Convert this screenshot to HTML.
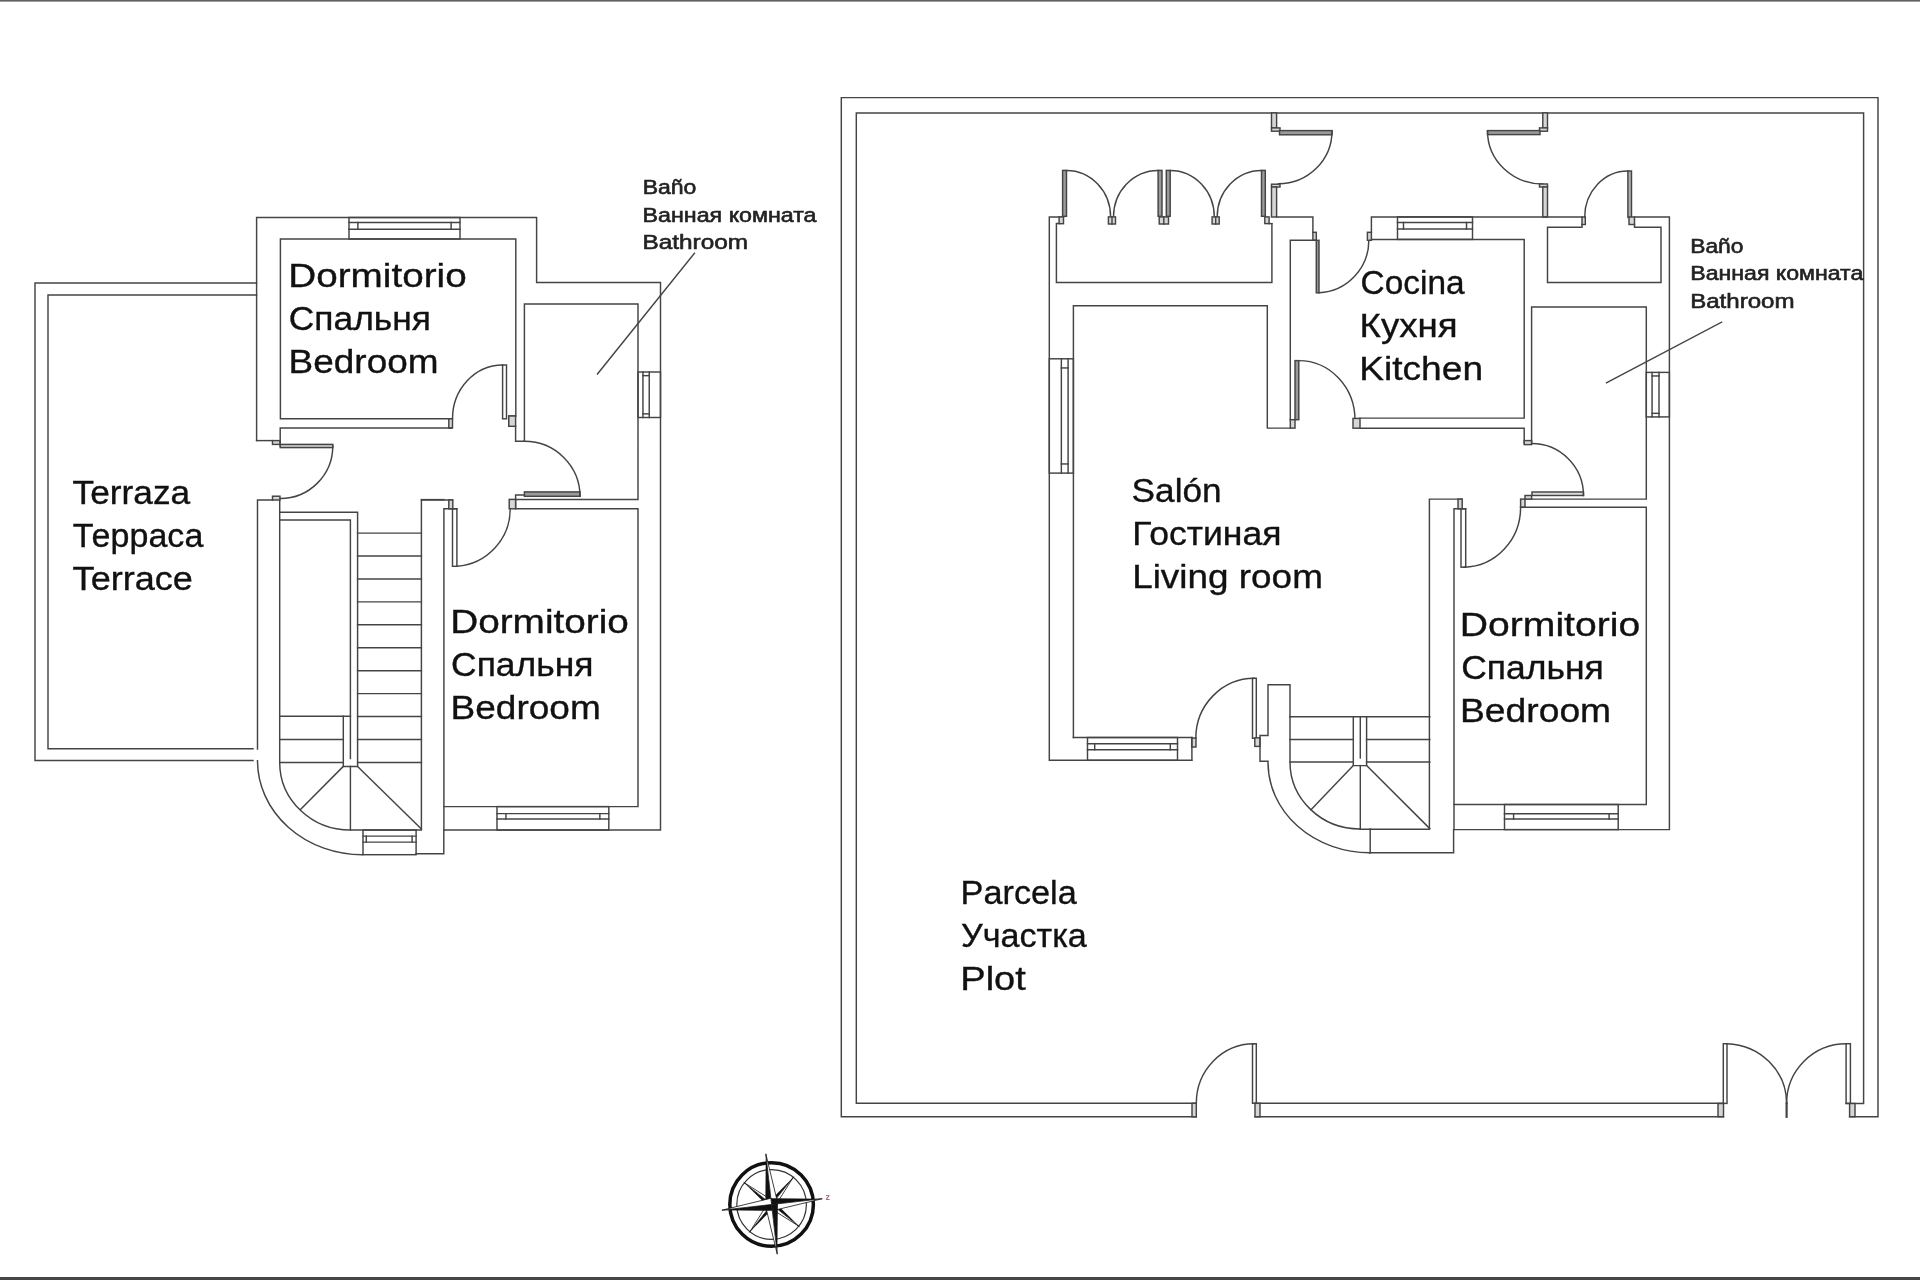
<!DOCTYPE html>
<html><head><meta charset="utf-8"><title>Floor plan</title>
<style>
html,body{margin:0;padding:0;background:#fff;}
body{width:1920px;height:1280px;overflow:hidden;position:relative;}
svg{position:absolute;left:0;top:0;display:block;}
text{font-family:"Liberation Sans",sans-serif;}
.tx{filter:grayscale(100%);}
</style></head>
<body>
<svg width="1920" height="1280" viewBox="0 0 1920 1280">
<rect x="0" y="0" width="1920" height="1280" fill="#fff"/>
<rect x="0" y="0" width="1920" height="1.6" fill="#606060"/>
<rect x="0" y="1277" width="1920" height="3" fill="#464646"/>
<g fill="none" stroke="#444" stroke-width="1.45" stroke-linecap="square" stroke-linejoin="miter">
<path d="M256.6 283 H35 V760.5 H253"/>
<path d="M256.6 295 H48 V748.8 H253"/>
<path d="M256.6 440.6 V217.5 H536.6 V282.5 H660.5 V830 H443.8 V853.8 H416"/>
<path d="M362.5 854.7 A105 94 0 0 1 257.5 760.8"/>
<path d="M257.5 749.1 V500 H272.5"/>
<path d="M256.6 440.6 H272.5"/>
<rect x="272.5" y="440.6" width="7.50" height="3.80" fill="#d6d6d6"/>
<rect x="272.5" y="496.2" width="7.50" height="3.80" fill="#d6d6d6"/>
<path d="M451.3 418.8 H280.4 V239 H515.8 V416 H508.8 V426.3 H515.6 V441.3 H524.4 V304 H638 V499.4 H515.6 V495 H524.4"/>
<line x1="451.3" y1="418.8" x2="451.3" y2="428"/>
<rect x="448.8" y="418.8" width="3.70" height="9.20" fill="#d6d6d6"/>
<rect x="508.8" y="416" width="6.80" height="10.30" fill="#d6d6d6"/>
<path d="M451.3 428 H280.2 V446"/>
<rect x="280.2" y="444.4" width="52.60" height="3.20" fill="#c8c8c8"/>
<path d="M332.8 446 A52.6 52.5 0 0 1 280.2 498.5"/>
<rect x="502.6" y="365" width="3.90" height="53.80"/>
<path d="M452.5 418.8 A50.1 53.8 0 0 1 502.6 365"/>
<rect x="524.4" y="491.9" width="55.60" height="4.40" fill="#9a9a9a"/>
<path d="M524.4 441.3 A55.6 55 0 0 1 580 496.3"/>
<rect x="349" y="217.5" width="111.00" height="21.50"/>
<line x1="349" y1="222.445" x2="460" y2="222.445"/>
<line x1="349" y1="229.325" x2="460" y2="229.325"/>
<line x1="357.88" y1="222.445" x2="357.88" y2="229.325"/>
<line x1="451.12" y1="222.445" x2="451.12" y2="229.325"/>
<rect x="638" y="372" width="22.50" height="45.50"/>
<line x1="642.95" y1="372" x2="642.95" y2="417.5"/>
<line x1="649.25" y1="372" x2="649.25" y2="417.5"/>
<line x1="642.95" y1="375.64" x2="649.25" y2="375.64"/>
<line x1="642.95" y1="413.86" x2="649.25" y2="413.86"/>
<path d="M279.7 500 V762.4 A70.7 67.6 0 0 0 350.4 830 H421.4 V500 H452.5"/>
<rect x="448.8" y="500" width="4.00" height="8.80" fill="#d6d6d6"/>
<path d="M280 512.3 H357.6 V766.4 H343.3 V716.3"/>
<path d="M280 520 H350.4 V758.4"/>
<line x1="357.6" y1="533.1" x2="421.4" y2="533.1"/>
<line x1="357.6" y1="556.03" x2="421.4" y2="556.03"/>
<line x1="357.6" y1="578.96" x2="421.4" y2="578.96"/>
<line x1="357.6" y1="601.89" x2="421.4" y2="601.89"/>
<line x1="357.6" y1="624.82" x2="421.4" y2="624.82"/>
<line x1="357.6" y1="647.75" x2="421.4" y2="647.75"/>
<line x1="357.6" y1="670.68" x2="421.4" y2="670.68"/>
<line x1="357.6" y1="693.61" x2="421.4" y2="693.61"/>
<line x1="357.6" y1="716.54" x2="421.4" y2="716.54"/>
<line x1="357.6" y1="739.47" x2="421.4" y2="739.47"/>
<line x1="357.6" y1="762.4" x2="421.4" y2="762.4"/>
<line x1="279.7" y1="716.3" x2="350.4" y2="716.3"/>
<line x1="279.7" y1="739.4" x2="343.3" y2="739.4"/>
<line x1="279.7" y1="762.4" x2="343.3" y2="762.4"/>
<line x1="343.3" y1="766.4" x2="300.5" y2="809.5"/>
<line x1="350.4" y1="766.4" x2="350.4" y2="830"/>
<line x1="357.6" y1="766.4" x2="421.4" y2="829"/>
<path d="M456.9 508.8 H443.9 V806.6 H638 V508.8 H515.6 V499.4"/>
<rect x="509.2" y="499.4" width="6.40" height="9.40" fill="#d6d6d6"/>
<line x1="421.4" y1="499.6" x2="443.9" y2="499.6"/>
<line x1="443.9" y1="806.6" x2="443.9" y2="830"/>
<rect x="452.5" y="508.8" width="4.40" height="57.50"/>
<path d="M456.9 566.3 A57.7 57.5 0 0 0 510.2 508.8"/>
<rect x="497" y="806.6" width="111.80" height="23.40"/>
<line x1="497" y1="813.62" x2="608.8" y2="813.62"/>
<line x1="497" y1="819.0020000000001" x2="608.8" y2="819.0020000000001"/>
<line x1="505.944" y1="813.62" x2="505.944" y2="819.0020000000001"/>
<line x1="599.856" y1="813.62" x2="599.856" y2="819.0020000000001"/>
<rect x="363" y="830" width="53.10" height="24.70"/>
<line x1="363" y1="836.1" x2="416.1" y2="836.1"/>
<line x1="363" y1="842.1" x2="416.1" y2="842.1"/>
<line x1="366.3" y1="836.1" x2="366.3" y2="842.1"/>
<line x1="412.1" y1="836.1" x2="412.1" y2="842.1"/>
<line x1="694.4" y1="253.3" x2="597.5" y2="374"/>
<path d="M1196.3 1116.8 H841.3 V97.6 H1878 V1116.7 H1849.6"/>
<path d="M1196.3 1103.3 H856.3 V113 H1863.6 V1103.4 H1846.1"/>
<path d="M1255 1116.8 H1723.5"/>
<path d="M1255 1103.3 H1723.5"/>
<rect x="1192" y="1103.3" width="4.30" height="13.50" fill="#d6d6d6"/>
<rect x="1255" y="1103.3" width="5.00" height="13.50" fill="#d6d6d6"/>
<rect x="1252.5" y="1043.8" width="3.80" height="59.50"/>
<path d="M1196.3 1103.3 A57.7 59.5 0 0 1 1254 1043.8"/>
<rect x="1718" y="1103.5" width="5.50" height="13.20" fill="#d6d6d6"/>
<rect x="1849.6" y="1103.5" width="5.40" height="13.20" fill="#d6d6d6"/>
<rect x="1723.3" y="1043.7" width="3.70" height="59.70"/>
<rect x="1846.1" y="1043.7" width="4.30" height="59.70"/>
<path d="M1727 1043.7 A61.6 59.7 0 0 1 1786.6 1103.4"/>
<path d="M1846.1 1043.7 A59.5 59.7 0 0 0 1786.6 1103.4"/>
<line x1="1786.6" y1="1103.4" x2="1786.6" y2="1116.8" stroke-width="2.2"/>
<path d="M1063.5 216.9 H1049.3 V760.3 H1191.7"/>
<rect x="1191.7" y="738" width="4.30" height="9.00" fill="#d6d6d6"/>
<rect x="1059.1" y="216.9" width="4.40" height="6.80" fill="#d6d6d6"/>
<path d="M1059.1 223.4 H1056.4 V282.5 H1271.9 V223.6"/>
<rect x="1062.6" y="170.4" width="3.90" height="45.90" fill="#9a9a9a"/>
<path d="M1066.5 170.4 A44.1 46.5 0 0 1 1110.6 216.9"/>
<rect x="1158.1" y="170.4" width="3.90" height="45.90" fill="#9a9a9a"/>
<path d="M1158.1 170.4 A44.6 46.5 0 0 0 1113.5 216.9"/>
<rect x="1108.4" y="216.9" width="7.10" height="7.10" fill="#d6d6d6"/>
<line x1="1112" y1="216.9" x2="1112" y2="224"/>
<rect x="1166.3" y="170.4" width="3.90" height="45.90" fill="#9a9a9a"/>
<path d="M1170.2 170.4 A44.1 46.5 0 0 1 1214.3 216.9"/>
<rect x="1261.5" y="170.4" width="3.80" height="45.90" fill="#9a9a9a"/>
<path d="M1261.5 170.4 A44.3 46.5 0 0 0 1217.2 216.9"/>
<rect x="1212.1" y="216.9" width="7.10" height="7.10" fill="#d6d6d6"/>
<line x1="1215.7" y1="216.9" x2="1215.7" y2="224"/>
<rect x="1159.2" y="216.9" width="9.30" height="7.10" fill="#d6d6d6"/>
<line x1="1163.8" y1="216.9" x2="1163.8" y2="224"/>
<rect x="1264.8" y="216.9" width="4.30" height="6.70" fill="#d6d6d6"/>
<line x1="1269.1" y1="223.6" x2="1271.9" y2="223.6"/>
<rect x="1271.5" y="112.9" width="5.10" height="15.00" fill="#d6d6d6"/>
<rect x="1271.5" y="127.9" width="8.50" height="3.30" fill="#d6d6d6"/>
<rect x="1279.5" y="130.6" width="52.50" height="4.20" fill="#9a9a9a"/>
<path d="M1332 131 A53.6 52.8 0 0 1 1278.4 183.8"/>
<rect x="1271.5" y="184.2" width="8.50" height="2.80" fill="#d6d6d6"/>
<rect x="1271.5" y="187" width="5.10" height="30.00" fill="#d6d6d6"/>
<rect x="1542.8" y="112.9" width="4.70" height="15.00" fill="#d6d6d6"/>
<rect x="1539.5" y="127.9" width="8.00" height="3.30" fill="#d6d6d6"/>
<rect x="1487.5" y="130.6" width="52.50" height="4.00" fill="#9a9a9a"/>
<path d="M1487.5 131 A55.3 53 0 0 0 1542.8 184"/>
<rect x="1539.5" y="184" width="8.00" height="3.00" fill="#d6d6d6"/>
<rect x="1542.8" y="187" width="4.70" height="30.00" fill="#d6d6d6"/>
<path d="M1276.6 217 H1312.9 V232.3"/>
<rect x="1312.9" y="232.3" width="3.40" height="8.00" fill="#d6d6d6"/>
<path d="M1316.3 240.3 H1290.3 V419.7"/>
<rect x="1316.3" y="240.3" width="2.70" height="52.50" fill="#9a9a9a"/>
<path d="M1319 292.8 A52.5 52.5 0 0 0 1368.8 240.3"/>
<rect x="1367.4" y="232.3" width="4.00" height="8.00" fill="#d6d6d6"/>
<path d="M1371.4 232.3 V217 H1582"/>
<path d="M1634.5 217 H1669.4 V829.6 H1453.6 V852.7 H1369.7"/>
<path d="M1073.4 737.5 V305.7 H1267.3 V428.1 H1290.3"/>
<rect x="1290.3" y="419.7" width="4.70" height="8.40" fill="#d6d6d6"/>
<rect x="1295" y="360.6" width="3.80" height="59.10" fill="#9a9a9a"/>
<path d="M1298.8 360.6 A56.2 59.4 0 0 1 1355 420"/>
<rect x="1353" y="418.4" width="7.00" height="9.80" fill="#d6d6d6"/>
<path d="M1371.4 239.4 H1524.2 V418.1 H1360"/>
<path d="M1360 428.2 H1524.2 V443.2"/>
<rect x="1397.5" y="216.9" width="75.00" height="22.50"/>
<line x1="1397.5" y1="222.525" x2="1472.5" y2="222.525"/>
<line x1="1397.5" y1="229.05" x2="1472.5" y2="229.05"/>
<line x1="1403.5" y1="222.525" x2="1403.5" y2="229.05"/>
<line x1="1466.5" y1="222.525" x2="1466.5" y2="229.05"/>
<path d="M1582 224.5 V227.2 H1547.5 V282.5 H1661 V227.2 H1634.5 V224.5"/>
<rect x="1582" y="217" width="3.30" height="7.50" fill="#d6d6d6"/>
<rect x="1627.9" y="171" width="3.60" height="46.40" fill="#b0b0b0"/>
<path d="M1627.9 171 A43.2 46 0 0 0 1584.7 217"/>
<rect x="1629" y="217" width="5.50" height="7.50" fill="#d6d6d6"/>
<path d="M1531.6 443.5 V306.9 H1646.3 V499.1 H1525"/>
<rect x="1646.3" y="372.4" width="23.10" height="44.50"/>
<line x1="1652.075" y1="372.4" x2="1652.075" y2="416.9"/>
<line x1="1659.005" y1="372.4" x2="1659.005" y2="416.9"/>
<line x1="1652.075" y1="375.96" x2="1659.005" y2="375.96"/>
<line x1="1652.075" y1="413.34" x2="1659.005" y2="413.34"/>
<rect x="1524.2" y="440.6" width="7.40" height="4.00" fill="#d6d6d6"/>
<rect x="1532" y="492" width="51.50" height="3.50" fill="#dcdcdc"/>
<path d="M1531.6 443.5 A51.9 52 0 0 1 1583.5 495.5"/>
<rect x="1520.6" y="499.1" width="4.40" height="8.20" fill="#d6d6d6"/>
<rect x="1525" y="495.5" width="6.60" height="3.60" fill="#d6d6d6"/>
<path d="M1520.6 507.3 H1646.3 V804.5 H1454 V508.8 H1465.7"/>
<path d="M1462.2 499.1 H1429.4 V829.2 H1360"/>
<rect x="1458" y="499.1" width="4.20" height="9.70" fill="#d6d6d6"/>
<rect x="1461" y="508.8" width="4.70" height="58.40"/>
<path d="M1520.6 507.3 A57.6 59.9 0 0 1 1464 567.2"/>
<rect x="1504.5" y="804.5" width="113.70" height="25.10"/>
<line x1="1504.5" y1="813.787" x2="1618.2" y2="813.787"/>
<line x1="1504.5" y1="819.058" x2="1618.2" y2="819.058"/>
<line x1="1513.596" y1="813.787" x2="1513.596" y2="819.058"/>
<line x1="1609.104" y1="813.787" x2="1609.104" y2="819.058"/>
<line x1="1454" y1="804.5" x2="1454" y2="829.6"/>
<rect x="1087.5" y="737.5" width="90.00" height="22.80"/>
<line x1="1087.5" y1="743.656" x2="1177.5" y2="743.656"/>
<line x1="1087.5" y1="749.698" x2="1177.5" y2="749.698"/>
<line x1="1094.7" y1="743.656" x2="1094.7" y2="749.698"/>
<line x1="1170.3" y1="743.656" x2="1170.3" y2="749.698"/>
<line x1="1073.4" y1="737.5" x2="1191.9" y2="737.5"/>
<line x1="1191.9" y1="737.5" x2="1191.9" y2="760.3"/>
<rect x="1252.5" y="678.3" width="3.80" height="60.00"/>
<path d="M1195.8 738.3 A58.6 60 0 0 1 1254.4 678.3"/>
<rect x="1254.8" y="737.8" width="5.20" height="8.60" fill="#d6d6d6"/>
<path d="M1290 716.7 V684.7 H1268 V735.5 H1260 V761.3 H1268"/>
<path d="M1268 762.5 A101.7 90.2 0 0 0 1369.7 852.7"/>
<rect x="1049.3" y="358.8" width="24.10" height="114.30"/>
<line x1="1061.35" y1="358.8" x2="1061.35" y2="473.1"/>
<line x1="1068.098" y1="358.8" x2="1068.098" y2="473.1"/>
<line x1="1061.35" y1="367.944" x2="1068.098" y2="367.944"/>
<line x1="1061.35" y1="463.956" x2="1068.098" y2="463.956"/>
<line x1="1290" y1="716.7" x2="1429.8" y2="716.7"/>
<path d="M1290 716.7 V762 A70 67 0 0 0 1360 829"/>
<line x1="1290" y1="739.4" x2="1353.3" y2="739.4"/>
<line x1="1366.6" y1="739.4" x2="1429.8" y2="739.4"/>
<line x1="1290" y1="762" x2="1353.3" y2="762"/>
<line x1="1366.6" y1="762" x2="1429.8" y2="762"/>
<path d="M1353.3 716.7 V765.6 H1366.6 V716.7"/>
<line x1="1360.3" y1="716.7" x2="1360.3" y2="758"/>
<line x1="1353.3" y1="765.6" x2="1311" y2="809.7"/>
<line x1="1360.3" y1="765.6" x2="1360.3" y2="829"/>
<line x1="1366.6" y1="765.6" x2="1429.8" y2="828.6"/>
<line x1="1370.2" y1="829" x2="1370.2" y2="852.7"/>
<line x1="1721.6" y1="322.2" x2="1606.5" y2="382.7"/>
</g>
<g class="tx">
<text x="642.66" y="193.6" font-size="20.5" textLength="53.74" lengthAdjust="spacingAndGlyphs" fill="#222" stroke="#222" stroke-width="0.6">Baño</text>
<text x="642.63" y="221.8" font-size="20.5" textLength="173.88" lengthAdjust="spacingAndGlyphs" fill="#222" stroke="#222" stroke-width="0.6">Ванная комната</text>
<text x="642.53" y="249.2" font-size="20.5" textLength="105.53" lengthAdjust="spacingAndGlyphs" fill="#222" stroke="#222" stroke-width="0.6">Bathroom</text>
<text x="1690.28" y="252.6" font-size="20.5" textLength="53.21" lengthAdjust="spacingAndGlyphs" fill="#222" stroke="#222" stroke-width="0.6">Baño</text>
<text x="1690.24" y="280.2" font-size="20.5" textLength="173.07" lengthAdjust="spacingAndGlyphs" fill="#222" stroke="#222" stroke-width="0.6">Ванная комната</text>
<text x="1690.15" y="307.8" font-size="20.5" textLength="104.39" lengthAdjust="spacingAndGlyphs" fill="#222" stroke="#222" stroke-width="0.6">Bathroom</text>
<text x="288.28" y="287.4" font-size="33" textLength="178.43" lengthAdjust="spacingAndGlyphs" fill="#111" stroke="#111" stroke-width="0.35">Dormitorio</text>
<text x="288.75" y="330.4" font-size="33" textLength="142.24" lengthAdjust="spacingAndGlyphs" fill="#111" stroke="#111" stroke-width="0.35">Спальня</text>
<text x="288.64" y="373" font-size="33" textLength="149.89" lengthAdjust="spacingAndGlyphs" fill="#111" stroke="#111" stroke-width="0.35">Bedroom</text>
<text x="72.63" y="504.3" font-size="33" textLength="117.52" lengthAdjust="spacingAndGlyphs" fill="#111" stroke="#111" stroke-width="0.35">Terraza</text>
<text x="72.67" y="546.9" font-size="33" textLength="130.7" lengthAdjust="spacingAndGlyphs" fill="#111" stroke="#111" stroke-width="0.35">Терраса</text>
<text x="72.61" y="589.6" font-size="33" textLength="120.34" lengthAdjust="spacingAndGlyphs" fill="#111" stroke="#111" stroke-width="0.35">Terrace</text>
<text x="450.18" y="632.7" font-size="33" textLength="178.74" lengthAdjust="spacingAndGlyphs" fill="#111" stroke="#111" stroke-width="0.35">Dormitorio</text>
<text x="451.05" y="675.9" font-size="33" textLength="142.45" lengthAdjust="spacingAndGlyphs" fill="#111" stroke="#111" stroke-width="0.35">Спальня</text>
<text x="450.64" y="718.6" font-size="33" textLength="150.1" lengthAdjust="spacingAndGlyphs" fill="#111" stroke="#111" stroke-width="0.35">Bedroom</text>
<text x="1360.57" y="293.5" font-size="33" textLength="104.06" lengthAdjust="spacingAndGlyphs" fill="#111" stroke="#111" stroke-width="0.35">Cocina</text>
<text x="1359.57" y="336.5" font-size="33" textLength="98.01" lengthAdjust="spacingAndGlyphs" fill="#111" stroke="#111" stroke-width="0.35">Кухня</text>
<text x="1359.23" y="379.7" font-size="33" textLength="123.81" lengthAdjust="spacingAndGlyphs" fill="#111" stroke="#111" stroke-width="0.35">Kitchen</text>
<text x="1131.62" y="502.2" font-size="33" textLength="90.05" lengthAdjust="spacingAndGlyphs" fill="#111" stroke="#111" stroke-width="0.35">Salón</text>
<text x="1132.27" y="544.6" font-size="33" textLength="149.14" lengthAdjust="spacingAndGlyphs" fill="#111" stroke="#111" stroke-width="0.35">Гостиная</text>
<text x="1132.15" y="587.6" font-size="33" textLength="190.74" lengthAdjust="spacingAndGlyphs" fill="#111" stroke="#111" stroke-width="0.35">Living room</text>
<text x="1459.84" y="636.2" font-size="33" textLength="180.38" lengthAdjust="spacingAndGlyphs" fill="#111" stroke="#111" stroke-width="0.35">Dormitorio</text>
<text x="1461.25" y="679.1" font-size="33" textLength="142.56" lengthAdjust="spacingAndGlyphs" fill="#111" stroke="#111" stroke-width="0.35">Спальня</text>
<text x="1460.01" y="721.8" font-size="33" textLength="151.14" lengthAdjust="spacingAndGlyphs" fill="#111" stroke="#111" stroke-width="0.35">Bedroom</text>
<text x="960.58" y="903.8" font-size="33" textLength="116.2" lengthAdjust="spacingAndGlyphs" fill="#111" stroke="#111" stroke-width="0.35">Parcela</text>
<text x="960.97" y="946.5" font-size="33" textLength="125.86" lengthAdjust="spacingAndGlyphs" fill="#111" stroke="#111" stroke-width="0.35">Участка</text>
<text x="960.24" y="989.7" font-size="33" textLength="65.62" lengthAdjust="spacingAndGlyphs" fill="#111" stroke="#111" stroke-width="0.35">Plot</text>
</g>
<g>
<circle cx="771.6" cy="1204.5" r="41.8" fill="none" stroke="#111" stroke-width="3.5"/>
<circle cx="771.6" cy="1204.5" r="34.8" fill="none" stroke="#333" stroke-width="1.2"/>
<path d="M771.60 1204.50 L793.70 1176.72 L768.63 1202.13Z" fill="#111"/>
<path d="M771.60 1204.50 L793.70 1176.72 L774.57 1206.87Z" fill="#fff" stroke="#111" stroke-width="0.8"/>
<path d="M771.60 1204.50 L799.38 1226.60 L773.97 1201.53Z" fill="#111"/>
<path d="M771.60 1204.50 L799.38 1226.60 L769.23 1207.47Z" fill="#fff" stroke="#111" stroke-width="0.8"/>
<path d="M771.60 1204.50 L749.50 1232.28 L774.57 1206.87Z" fill="#111"/>
<path d="M771.60 1204.50 L749.50 1232.28 L768.63 1202.13Z" fill="#fff" stroke="#111" stroke-width="0.8"/>
<path d="M771.60 1204.50 L743.82 1182.40 L769.23 1207.47Z" fill="#111"/>
<path d="M771.60 1204.50 L743.82 1182.40 L773.97 1201.53Z" fill="#fff" stroke="#111" stroke-width="0.8"/>
<path d="M771.60 1204.50 L765.83 1153.83 L765.34 1205.21Z" fill="#111"/>
<path d="M771.60 1204.50 L765.83 1153.83 L777.86 1203.79Z" fill="#fff" stroke="#111" stroke-width="0.8"/>
<path d="M771.60 1204.50 L822.27 1198.73 L770.89 1198.24Z" fill="#111"/>
<path d="M771.60 1204.50 L822.27 1198.73 L772.31 1210.76Z" fill="#fff" stroke="#111" stroke-width="0.8"/>
<path d="M771.60 1204.50 L777.26 1254.18 L777.86 1203.79Z" fill="#111"/>
<path d="M771.60 1204.50 L777.26 1254.18 L765.34 1205.21Z" fill="#fff" stroke="#111" stroke-width="0.8"/>
<path d="M771.60 1204.50 L721.92 1210.16 L772.31 1210.76Z" fill="#111"/>
<path d="M771.60 1204.50 L721.92 1210.16 L770.89 1198.24Z" fill="#fff" stroke="#111" stroke-width="0.8"/>
<text x="825.5" y="1200" font-size="9" font-weight="bold" fill="#b84050" opacity="0.8">z</text>
</g>
</svg>
</body></html>
